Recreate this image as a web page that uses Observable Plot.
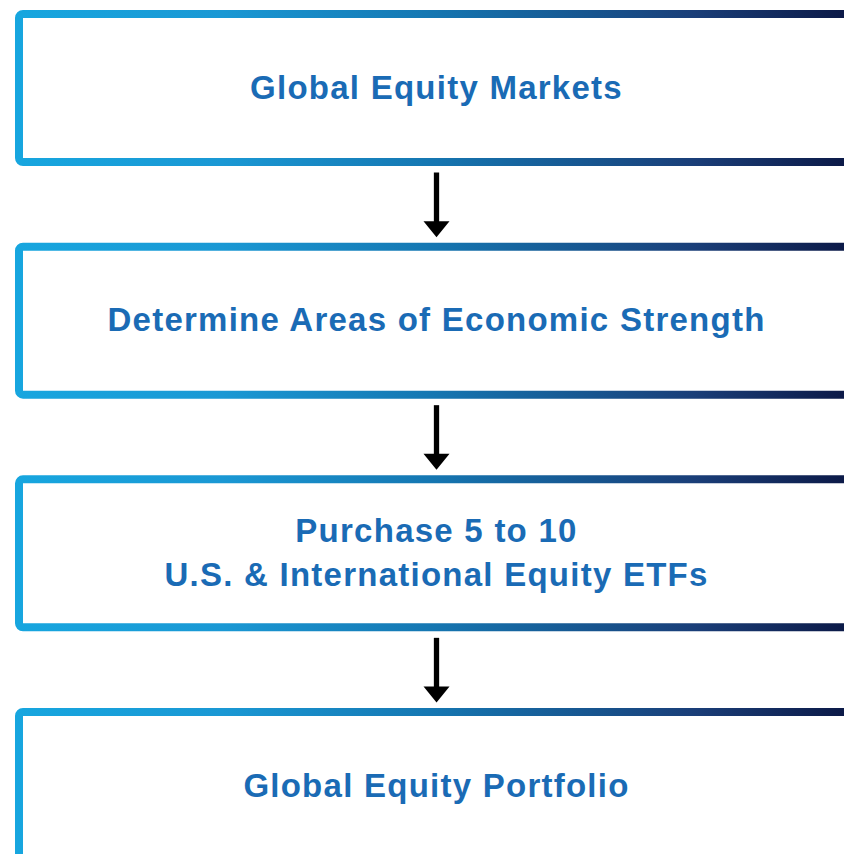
<!DOCTYPE html>
<html>
<head>
<meta charset="utf-8">
<script src="https://cdn.jsdelivr.net/npm/d3@7"></script>
<script src="https://cdn.jsdelivr.net/npm/@observablehq/plot@0.6"></script>
<style>
  html, body { margin: 0; padding: 0; background: #fff; overflow: hidden; }
</style>
</head>
<body>
<div id="chart"></div>
<script>
// ---- data ----
const steps = [
  "Global Equity Markets",
  "Determine Areas of Economic Strength",
  "Purchase 5 to 10\nU.S. & International Equity ETFs",
  "Global Equity Portfolio"
];
const gradientStops = [
  {offset: 0.00, color: "#17a6df"},
  {offset: 0.25, color: "#1a98d4"},
  {offset: 0.50, color: "#1577b2"},
  {offset: 0.70, color: "#17548e"},
  {offset: 0.82, color: "#1a3e78"},
  {offset: 1.00, color: "#0c1a48"}
];

// ---- layout (in step units) ----
const stepPx = 232.67;
const boxFrac = 148 / stepPx;     // box height as fraction of a step
const gapPad = 10 / stepPx;       // arrow clearance from boxes
const headFrac = 15 / stepPx;     // arrow head height
const textShift = -4 / stepPx;    // optical centring of labels

const boxes = steps.map((label, i) => ({i, label}));
const arrows = steps.slice(0, -1).map((_, i) => ({i}));

// downward-pointing flat triangle, tip at origin
const arrowHead = {
  draw(ctx) {
    ctx.moveTo(-13, -16);
    ctx.lineTo(13, -16);
    ctx.lineTo(0, 0);
    ctx.closePath();
  }
};

const gradMark = () => {
  const ns = "http://www.w3.org/2000/svg";
  const defs = document.createElementNS(ns, "defs");
  const lg = document.createElementNS(ns, "linearGradient");
  lg.setAttribute("id", "boxGrad");
  lg.setAttribute("gradientUnits", "userSpaceOnUse");
  lg.setAttribute("x1", "15"); lg.setAttribute("x2", "844");
  lg.setAttribute("y1", "0"); lg.setAttribute("y2", "0");
  for (const s of gradientStops) {
    const st = document.createElementNS(ns, "stop");
    st.setAttribute("offset", s.offset);
    st.setAttribute("stop-color", s.color);
    lg.appendChild(st);
  }
  defs.appendChild(lg);
  return defs;
};

const chart = Plot.plot({
  width: 844,
  height: 854,
  margin: 0,
  x: {type: "linear", domain: [0, 1], range: [19, 853], axis: null},
  y: {type: "linear", domain: [0, 4], range: [14, 14 + 4 * stepPx], axis: null},
  style: {background: "#fff", letterSpacing: "1.25px"},
  marks: [
    gradMark,
    Plot.rect(boxes, {
      x1: 0, x2: 1,
      y1: d => d.i, y2: d => d.i + boxFrac,
      fill: "none",
      stroke: "url(#boxGrad)",
      strokeWidth: 8,
      rx: 4
    }),
    Plot.text(boxes, {
      x: 0.5,
      y: d => d.i + boxFrac / 2 + textShift,
      text: "label",
      fill: "#1a6bb5",
      fontSize: 33,
      fontWeight: "bold",
      fontFamily: "Liberation Sans, Arial, sans-serif",
      lineHeight: 1.333,
      textAnchor: "middle"
    }),
    Plot.link(arrows, {
      x1: 0.5, x2: 0.5,
      y1: d => d.i + boxFrac + gapPad,
      y2: d => d.i + 1 - gapPad - headFrac,
      stroke: "#000",
      strokeWidth: 5.3
    }),
    Plot.dot(arrows, {
      x: 0.5,
      y: d => d.i + 1 - gapPad,
      symbol: arrowHead,
      r: 10,
      fill: "#000",
      stroke: "none"
    })
  ]
});
chart.style.display = "block";
document.getElementById("chart").appendChild(chart);
</script>
</body>
</html>
